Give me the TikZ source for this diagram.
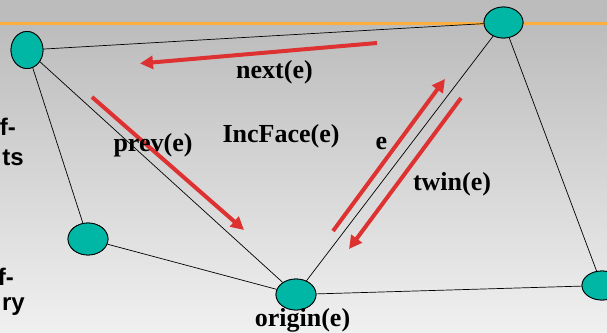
\documentclass[tikz,border=0pt]{standalone}
\usepackage{fontspec}
\setmainfont{Liberation Serif}
\newfontfamily\sidefont{Liberation Sans}
\usetikzlibrary{shapes.geometric,arrows.meta}
\definecolor{vteal}{RGB}{0,182,165}
\definecolor{vred}{RGB}{222,50,50}
\definecolor{vorange}{RGB}{255,174,60}
\definecolor{bgtop}{RGB}{188,188,188}
\definecolor{bgbot}{RGB}{240,240,240}
\tikzset{
  vtx/.style={ellipse, draw=black, line width=0.8pt, fill=vteal, inner sep=0pt},
  edge/.style={draw=black, line width=0.7pt},
  harrow/.style={draw=vred, line width=4pt, -{Triangle[length=13pt,width=13pt]}},
  lab/.style={font=\fontsize{26}{28}\selectfont\bfseries, anchor=base, inner sep=0pt, text=black},
  side/.style={font=\sidefont\fontsize{24}{26}\selectfont\bfseries, anchor=base east, inner sep=0pt, text=black}
}
\begin{document}
\begin{tikzpicture}[x=1pt,y=-1pt]
\useasboundingbox (0,0) rectangle (607,332);
\begin{scope}
\clip (0,0) rectangle (607,332);
\fill[bgtop] (0,0) rectangle (607,23);
\shade[top color=bgtop, bottom color=bgbot] (0,23) rectangle (607,332);
\draw[vorange, line width=3pt] (0,23) -- (607,23);
% side text fragments
\node[side] (s1) at (16,135) {f-};
\node[side] (s2) at (24,165) {ts};
\node[side] (s3) at (14,285) {f-};
\node[side] (s4) at (25,310) {ry};
% vertices
\node[vtx, minimum width=32pt, minimum height=37pt] (A) at (27,50) {};
\node[vtx, minimum width=39pt, minimum height=31pt] (B) at (503.5,22.5) {};
\node[vtx, minimum width=40pt, minimum height=32pt] (C) at (88,239) {};
\node[vtx, minimum width=40pt, minimum height=31pt] (D) at (296,294.5) {};
\node[vtx, minimum width=40pt, minimum height=29pt] (E) at (602,285.5) {};
% edges
\begin{scope}[on background layer/.style={}]
\end{scope}
\end{scope}
\begin{scope}
\clip (0,0) rectangle (607,332);
\path[edge] (A) -- (B);
\path[edge] (A) -- (C);
\path[edge] (A) -- (D);
\path[edge] (C) -- (D);
\path[edge] (D) -- (B);
\path[edge] (B) -- (E);
\path[edge] (D) -- (E);
% redraw vertices on top of edges
\node[vtx, minimum width=32pt, minimum height=37pt] at (A) {};
\node[vtx, minimum width=39pt, minimum height=31pt] at (B) {};
\node[vtx, minimum width=40pt, minimum height=32pt] at (C) {};
\node[vtx, minimum width=40pt, minimum height=31pt] at (D) {};
\node[vtx, minimum width=40pt, minimum height=29pt] at (E) {};
% half-edge arrows
\coordinate (n1) at (377,43); \coordinate (n2) at (140,63.5);
\coordinate (p1) at (92,97);  \coordinate (p2) at (244,230);
\coordinate (e1) at (333,231); \coordinate (e2) at (445,79);
\coordinate (t1) at (461,98); \coordinate (t2) at (349,249);
\draw[harrow] (n1) -- (n2);
\draw[harrow] (p1) -- (p2);
\draw[harrow] (e1) -- (e2);
\draw[harrow] (t1) -- (t2);
% labels
\node[lab] (Lnext) at (274.5,78) {next(e)};
\node[lab] (Lprev) at (153,151) {prev(e)};
\node[lab] (Linc) at (281,142) {IncFace(e)};
\node[lab] (Le) at (381.5,149) {e};
\node[lab] (Ltwin) at (452,190) {twin(e)};
\node[lab] (Lorig) at (302.5,326) {origin(e)};
\end{scope}
\end{tikzpicture}
\end{document}
